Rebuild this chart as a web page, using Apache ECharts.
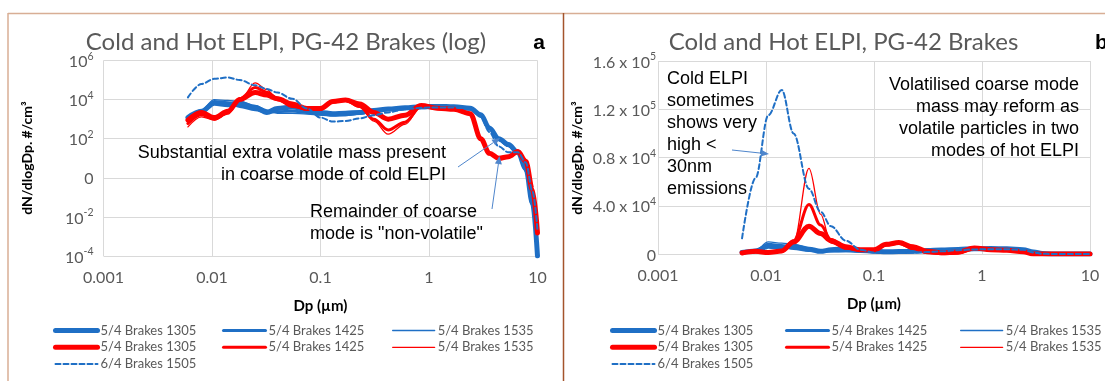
<!DOCTYPE html>
<html>
<head>
<meta charset="utf-8">
<script src="https://cdn.jsdelivr.net/npm/echarts@6/dist/echarts.min.js"></script>
<style>
  html, body { margin: 0; padding: 0; background: #fff; }
  #chart { width: 1105px; height: 381px; }
</style>
</head>
<body>
<div id="chart"></div>
<script>
// Particle diameters (µm) at which the ELPI size distributions are sampled
const diameters = [0.006, 0.008, 0.0105, 0.014, 0.018, 0.025, 0.032, 0.04, 0.055, 0.075,
                   0.1, 0.13, 0.17, 0.23, 0.31, 0.42, 0.6, 0.85, 1.2, 1.7,
                   2.4, 3.0, 3.6, 4.4, 5.4, 6.6, 7.8, 9.0, 10.0];

// dN/dlogDp (#/cm3) — cold ELPI, 5/4 brakes runs
const cold1305 = [1200, 2500, 6500, 5500, 6500, 4000, 2200, 3500, 4200, 3000,
                  2200, 1900, 2000, 2200, 2800, 3300, 3800, 4300, 4500, 4300,
                  3600, 1700, 350, 100, 50, 20, 3, 0.05, 0.0001];
const cold1425 = [900, 2000, 8000, 7000, 4500, 3000, 2200, 2400, 2600, 2200,
                  1800, 1600, 1700, 2000, 2500, 3000, 3400, 3800, 4000, 3800,
                  3300, 1500, 320, 90, 45, 18, 2.5, 0.04, 0.0001];
const cold1535 = [1400, 3000, 10000, 9000, 8000, 5000, 3000, 2000, 2000, 1800,
                  1600, 1500, 1500, 1800, 2300, 2800, 3200, 3600, 3800, 3600,
                  3100, 1400, 300, 80, 40, 16, 2, 0.03, 0.0001];

// dN/dlogDp (#/cm3) — hot ELPI, 5/4 brakes runs
const hot1305 = [900, 2200, 1200, 2500, 10000, 23000, 17000, 11000, 6000, 3500,
                 3500, 8000, 9500, 6000, 2200, 1000, 1600, 5000, 3600, 3200,
                 1900, 100, 18, 10, 12, 22, 7, 0.25, 0.0015];
const hot1425 = [600, 1700, 1000, 2200, 11000, 41000, 24000, 12000, 5000, 3200,
                 3200, 7500, 9000, 4500, 1000, 280, 700, 4600, 3400, 3100,
                 1800, 95, 17, 10, 12, 21, 7, 0.25, 0.0015];
const hot1535 = [400, 1300, 900, 1800, 9000, 71000, 33000, 9000, 4000, 3000,
                 3000, 7000, 8500, 4000, 800, 170, 550, 4300, 3300, 3000,
                 1700, 90, 16, 10, 12, 20, 7, 0.25, 0.0015];

// dN/dlogDp (#/cm3) — cold ELPI, 6/4 brakes run
const cold1505 = [13000, 63000, 115000, 136000, 100000, 54000, 35000, 23000, 11000, 3500,
                  1200, 750, 800, 1100, 1600, 2200, 3200, 3800, 4000, 3900,
                  3500, 1300, 220, 40, 20, 20, 6, 0.2, 0.002];

// Tick labels
const xTickLabels = ['0.001', '0.01', '0.1', '1', '10'];
const yLogTickLabels = [['10', '-4'], ['10', '-2'], ['0', ''], ['10', '2'], ['10', '4'], ['10', '6']];
const yLinTickLabels = [['0', ''], ['4.0 x 10', '4'], ['0.8 x 10', '4'], ['1.2 x 10', '5'], ['1.6 x 10', '5']];

// Legend entries
const runNames = ['5/4 Brakes 1305', '5/4 Brakes 1425', '5/4 Brakes 1535',
                  '5/4 Brakes 1305', '5/4 Brakes 1425', '5/4 Brakes 1535',
                  '6/4 Brakes 1505'];

const BLUE = '#1f6fc5';
const RED = '#ff0000';
const GREY = '#595959';
const GRID = '#d9d9d9';
const FONT = 'Lato';

const runs = [
  { name: runNames[0], values: cold1305, color: BLUE, width: 5,   type: 'solid',  tag: 'cold' },
  { name: runNames[1], values: cold1425, color: BLUE, width: 3,   type: 'solid',  tag: 'cold' },
  { name: runNames[2], values: cold1535, color: BLUE, width: 1.3, type: 'solid',  tag: 'cold' },
  { name: runNames[3], values: hot1305,  color: RED,  width: 5,   type: 'solid',  tag: 'hot' },
  { name: runNames[4], values: hot1425,  color: RED,  width: 3,   type: 'solid',  tag: 'hot' },
  { name: runNames[5], values: hot1535,  color: RED,  width: 1.3, type: 'solid',  tag: 'hot' },
  { name: runNames[6], values: cold1505, color: BLUE, width: 2,   type: [5, 3],   tag: 'cold' }
];

const seriesId = (panel, r) => panel + '|' + r.tag + '|' + r.name;

function panelSeries(panel, axisIndex) {
  return runs.map(r => ({
    type: 'line',
    name: seriesId(panel, r),
    xAxisIndex: axisIndex,
    yAxisIndex: axisIndex,
    data: diameters.map((d, i) => [d, r.values[i]]),
    smooth: 0.35,
    smoothMonotone: 'x',
    symbol: 'none',
    clip: true,
    lineStyle: { color: r.color, width: r.width, type: r.type, cap: 'round', join: 'round' },
    itemStyle: { color: r.color },
    emphasis: { disabled: true }
  }));
}

function panelLegends(panel, lefts) {
  const cols = [[0, 3, 6], [1, 4], [2, 5]];
  return cols.map((idx, c) => ({
    orient: 'vertical',
    left: lefts[c],
    top: 324,
    padding: 0,
    itemWidth: 42,
    itemHeight: 14,
    itemGap: 3.8,
    selectedMode: false,
    data: idx.map(i => seriesId(panel, runs[i])),
    formatter: n => n.split('|')[2],
    lineStyle: { width: 'inherit' },
    itemStyle: { opacity: 0, borderWidth: 0 },
    textStyle: { color: GREY, fontSize: 13, fontFamily: FONT, padding: [0, 0, 0, -2] }
  }));
}

const richTick = {
  b: { fontSize: 16, fontFamily: FONT, color: GREY, lineHeight: 19, verticalAlign: 'bottom' },
  s: { fontSize: 10.5, fontFamily: FONT, color: GREY, lineHeight: 11, verticalAlign: 'top' }
};

function xAxisFor(grid) {
  return {
    type: 'log', logBase: 10, min: 0.001, max: 10, gridIndex: grid,
    axisLine: { show: false }, axisTick: { show: false },
    splitLine: { show: true, lineStyle: { color: GRID, width: 1 } },
    axisLabel: {
      margin: 14, color: GREY, fontSize: 16, fontFamily: FONT,
      formatter: v => xTickLabels[Math.round(Math.log10(v)) + 3]
    },
    name: 'Dp (µm)', nameLocation: 'middle', nameGap: 43,
    nameTextStyle: { color: '#000', fontSize: 15, fontWeight: 'bold', fontFamily: FONT }
  };
}

// Annotation arrow: thin shaft with a filled head at (x2, y2)
function arrow(x1, y1, x2, y2) {
  const col = '#4f86cc';
  const a = Math.atan2(y2 - y1, x2 - x1), L = 8, W = 3.5;
  const bx = x2 - L * Math.cos(a), by = y2 - L * Math.sin(a);
  return [
    { type: 'line', z: 100, shape: { x1: x1, y1: y1, x2: bx, y2: by }, style: { stroke: col, lineWidth: 1 } },
    { type: 'polygon', z: 100, shape: { points: [[x2, y2],
        [bx - W * Math.sin(a), by + W * Math.cos(a)],
        [bx + W * Math.sin(a), by - W * Math.cos(a)]] }, style: { fill: col } }
  ];
}

function note(text, x, y, align) {
  return { type: 'text', z: 100, x: x, y: y,
    style: { text: text, align: align, verticalAlign: 'top', fontSize: 18, lineHeight: 22,
             fontFamily: 'Liberation Sans', fill: '#000' } };
}

const chart = echarts.init(document.getElementById('chart'), null, { renderer: 'canvas' });

chart.setOption({
  animation: false,
  backgroundColor: '#fff',
  grid: [
    { left: 103.5, top: 60.5, width: 434, height: 195.5 },
    { left: 658, top: 61, width: 432, height: 193 }
  ],
  xAxis: [xAxisFor(0), xAxisFor(1)],
  yAxis: [
    {
      type: 'log', logBase: 100, min: 0.0001, max: 1000000, gridIndex: 0,
      axisLine: { show: false }, axisTick: { show: false },
      splitLine: { show: true, lineStyle: { color: GRID, width: 1 } },
      axisLabel: {
        margin: 10,
        formatter: v => {
          const t = yLogTickLabels[Math.round((Math.log10(v) + 4) / 2)];
          return t[1] ? '{b|' + t[0] + '}{s|' + t[1] + '}' : '{b|' + t[0] + '}';
        },
        rich: richTick
      }
    },
    {
      type: 'value', min: 0, max: 160000, interval: 40000, gridIndex: 1,
      axisLine: { show: false }, axisTick: { show: false },
      splitLine: { show: true, lineStyle: { color: GRID, width: 1 } },
      axisLabel: {
        margin: 2,
        formatter: v => {
          const t = yLinTickLabels[Math.round(v / 40000)];
          return t[1] ? '{b|' + t[0] + '}{s|' + t[1] + '}' : '{b|' + t[0] + '}';
        },
        rich: richTick
      }
    }
  ],
  legend: panelLegends('a', [53, 222, 392]).concat(panelLegends('b', [610, 785, 960])),
  series: panelSeries('a', 0).concat(panelSeries('b', 1)),
  graphic: [
    // panel frames
    { type: 'line', shape: { x1: 8, y1: 13.5, x2: 1105, y2: 13.5 }, style: { stroke: '#d8ae95', lineWidth: 1.5 } },
    { type: 'line', shape: { x1: 8, y1: 13, x2: 8, y2: 381 }, style: { stroke: '#d8ae95', lineWidth: 1.5 } },
    { type: 'line', shape: { x1: 563.5, y1: 13, x2: 563.5, y2: 381 }, style: { stroke: '#a4542c', lineWidth: 1.5 } },
    // titles
    { type: 'text', x: 286, y: 42, style: { text: 'Cold and Hot ELPI, PG-42 Brakes (log)', align: 'center',
      verticalAlign: 'middle', fontSize: 24, fontFamily: FONT, fill: GREY } },
    { type: 'text', x: 843.5, y: 42, style: { text: 'Cold and Hot ELPI, PG-42 Brakes', align: 'center',
      verticalAlign: 'middle', fontSize: 24, fontFamily: FONT, fill: GREY } },
    { type: 'text', x: 539, y: 43, style: { text: 'a', align: 'center', verticalAlign: 'middle',
      fontSize: 21, fontWeight: 'bold', fontFamily: 'Liberation Sans', fill: '#000' } },
    { type: 'text', x: 1095, y: 43, style: { text: 'b', align: 'left', verticalAlign: 'middle',
      fontSize: 21, fontWeight: 'bold', fontFamily: 'Liberation Sans', fill: '#000' } },
    // y-axis titles
    { type: 'text', x: 27, y: 158, rotation: Math.PI / 2, style: { text: 'dN/dlogDp. #/cm³', align: 'center',
      verticalAlign: 'middle', fontSize: 14, fontWeight: 'bold', fontFamily: FONT, fill: '#000' } },
    { type: 'text', x: 577, y: 158, rotation: Math.PI / 2, style: { text: 'dN/dlogDp. #/cm³', align: 'center',
      verticalAlign: 'middle', fontSize: 14, fontWeight: 'bold', fontFamily: FONT, fill: '#000' } },
    // notes
    note('Substantial extra volatile mass present\nin coarse mode of cold ELPI', 446, 142, 'right'),
    note('Remainder of coarse\nmode is "non-volatile"', 310, 201, 'left'),
    note('Cold ELPI\nsometimes\nshows very\nhigh <\n30nm\nemissions', 667, 68, 'left'),
    note('Volatilised coarse mode\nmass may reform as\nvolatile particles in two\nmodes of hot ELPI', 1079, 74, 'right')
  ].concat(arrow(458, 167, 500, 138), arrow(492, 209, 499.5, 156), arrow(732, 150, 769, 154))
});
</script>
</body>
</html>
